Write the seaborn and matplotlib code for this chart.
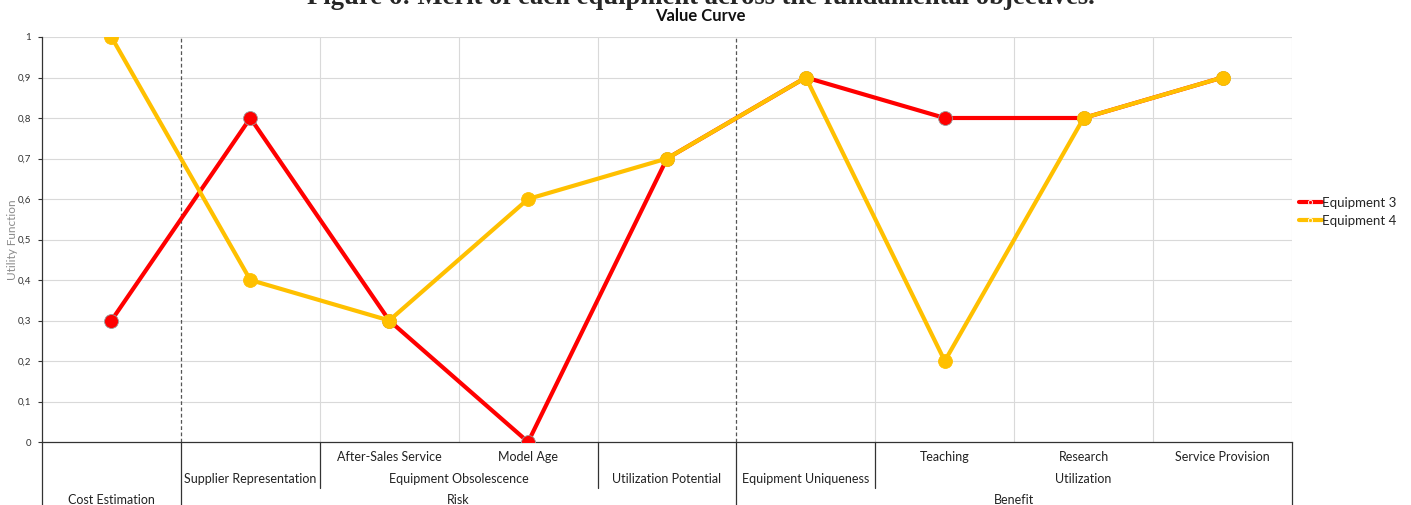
import matplotlib
matplotlib.use("Agg")
import matplotlib.pyplot as plt
import matplotlib.transforms as mtransforms
import pandas as pd
import seaborn as sns

# categories (leaf level of the hierarchical axis)
categories = ["Cost Estimation", "Supplier Representation", "After-Sales Service",
              "Model Age", "Utilization Potential", "Equipment Uniqueness",
              "Teaching", "Research", "Service Provision"]
equipment_3 = [0.3, 0.8, 0.3, 0.0, 0.7, 0.9, 0.8, 0.8, 0.9]
equipment_4 = [1.0, 0.4, 0.3, 0.6, 0.7, 0.9, 0.2, 0.8, 0.9]

# axis label rows (row 1 = top, row 3 = bottom)
row1_labels = ["", "", "After-Sales Service", "Model Age", "", "",
               "Teaching", "Research", "Service Provision"]
row2_groups = [("Supplier Representation", 1, 1), ("Equipment Obsolescence", 2, 3),
               ("Utilization Potential", 4, 4), ("Equipment Uniqueness", 5, 5),
               ("Utilization", 6, 8)]
row3_groups = [("Cost Estimation", 0, 0), ("Risk", 1, 4), ("Benefit", 5, 8)]

df = pd.concat([
    pd.DataFrame({"Objective": categories, "Utility": equipment_3, "Equipment": "Equipment 3"}),
    pd.DataFrame({"Objective": categories, "Utility": equipment_4, "Equipment": "Equipment 4"}),
])

sns.set_theme(style="white")
plt.rcParams["font.family"] = ["Lato", "DejaVu Sans"]

fig = plt.figure(figsize=(14.11, 5.05), dpi=100)
ax = fig.add_axes([42 / 1411, 63 / 505, 1250 / 1411, 405 / 505])

sns.lineplot(data=df, x="Objective", y="Utility", hue="Equipment", sort=False,
             palette={"Equipment 3": "#FF0000", "Equipment 4": "#FFC000"},
             marker="o", markersize=10, linewidth=3, markeredgewidth=0.6,
             ax=ax, zorder=3)
for ln, ec in zip(ax.lines[:2], ["#999999", "#FFC000"]):
    ln.set_markeredgecolor(ec)

ax.set_xlim(-0.5, 8.5)
ax.set_ylim(0, 1)
ax.set_yticks([i / 10 for i in range(11)])
ax.set_yticklabels(["0"] + ["0,%d" % i for i in range(1, 10)] + ["1"], fontsize=7, color="#333333")
ax.tick_params(axis="y", length=3, width=0.8, color="#333333", left=True, pad=5)
ax.set_xticks([])
ax.set_xlabel("")
ax.set_ylabel("Utility Function", fontsize=8.5, color="#8c8c8c")
ax.yaxis.set_label_coords(-24 / 1250, 0.5)

for s in ["top", "right"]:
    ax.spines[s].set_visible(False)
for s in ["left", "bottom"]:
    ax.spines[s].set_color("#333333")
    ax.spines[s].set_linewidth(0.9)

# gridlines
for i in range(1, 11):
    ax.axhline(i / 10, color="#d9d9d9", lw=0.8, zorder=0)
for b in [1.5, 2.5, 3.5, 5.5, 6.5, 7.5, 8.5]:
    ax.axvline(b, color="#d9d9d9", lw=0.8, zorder=0)
for b in [0.5, 4.5]:
    ax.axvline(b, color="#555555", lw=0.9, ls=(0, (3, 2)), zorder=1)

# hierarchical category labels
trans = mtransforms.blended_transform_factory(ax.transData, ax.transAxes)
y1, y2, y3 = -15 / 405, -37 / 405, -58 / 405
lab_kw = dict(transform=trans, ha="center", va="center", fontsize=9, color="#222222")
for i, lab in enumerate(row1_labels):
    if lab:
        ax.text(i, y1, lab, **lab_kw)
for lab, a, b in row2_groups:
    ax.text((a + b) / 2, y2, lab, **lab_kw)
for lab, a, b in row3_groups:
    ax.text((a + b) / 2, y3, lab, **lab_kw)

sep_bottom = -70 / 405
row2_bottom = -46 / 405
for b, bot in [(-0.5, sep_bottom), (0.5, sep_bottom), (1.5, row2_bottom), (3.5, row2_bottom),
               (4.5, sep_bottom), (5.5, row2_bottom), (8.5, sep_bottom)]:
    ax.plot([b, b], [0, bot], transform=trans, color="#333333", lw=0.9, clip_on=False)

ax.legend(loc="center left", bbox_to_anchor=(0.999, 0.568), frameon=False, fontsize=9.5,
          handlelength=1.75, handletextpad=0.05, labelspacing=0.45, markerscale=0.3,
          borderaxespad=0.2)

fig.text(700 / 1411, 1 - 16 / 505, "Value Curve", ha="center", va="center",
         fontsize=12, fontweight="bold", color="#111111")
fig.text(701 / 1411, 1 - 4 / 505, "Figure 6: Merit of each equipment across the fundamental objectives.",
         ha="center", va="baseline", fontsize=19.2, fontweight="bold",
         family=["Liberation Serif", "DejaVu Serif"])

fig.savefig("out.png", dpi=100)
